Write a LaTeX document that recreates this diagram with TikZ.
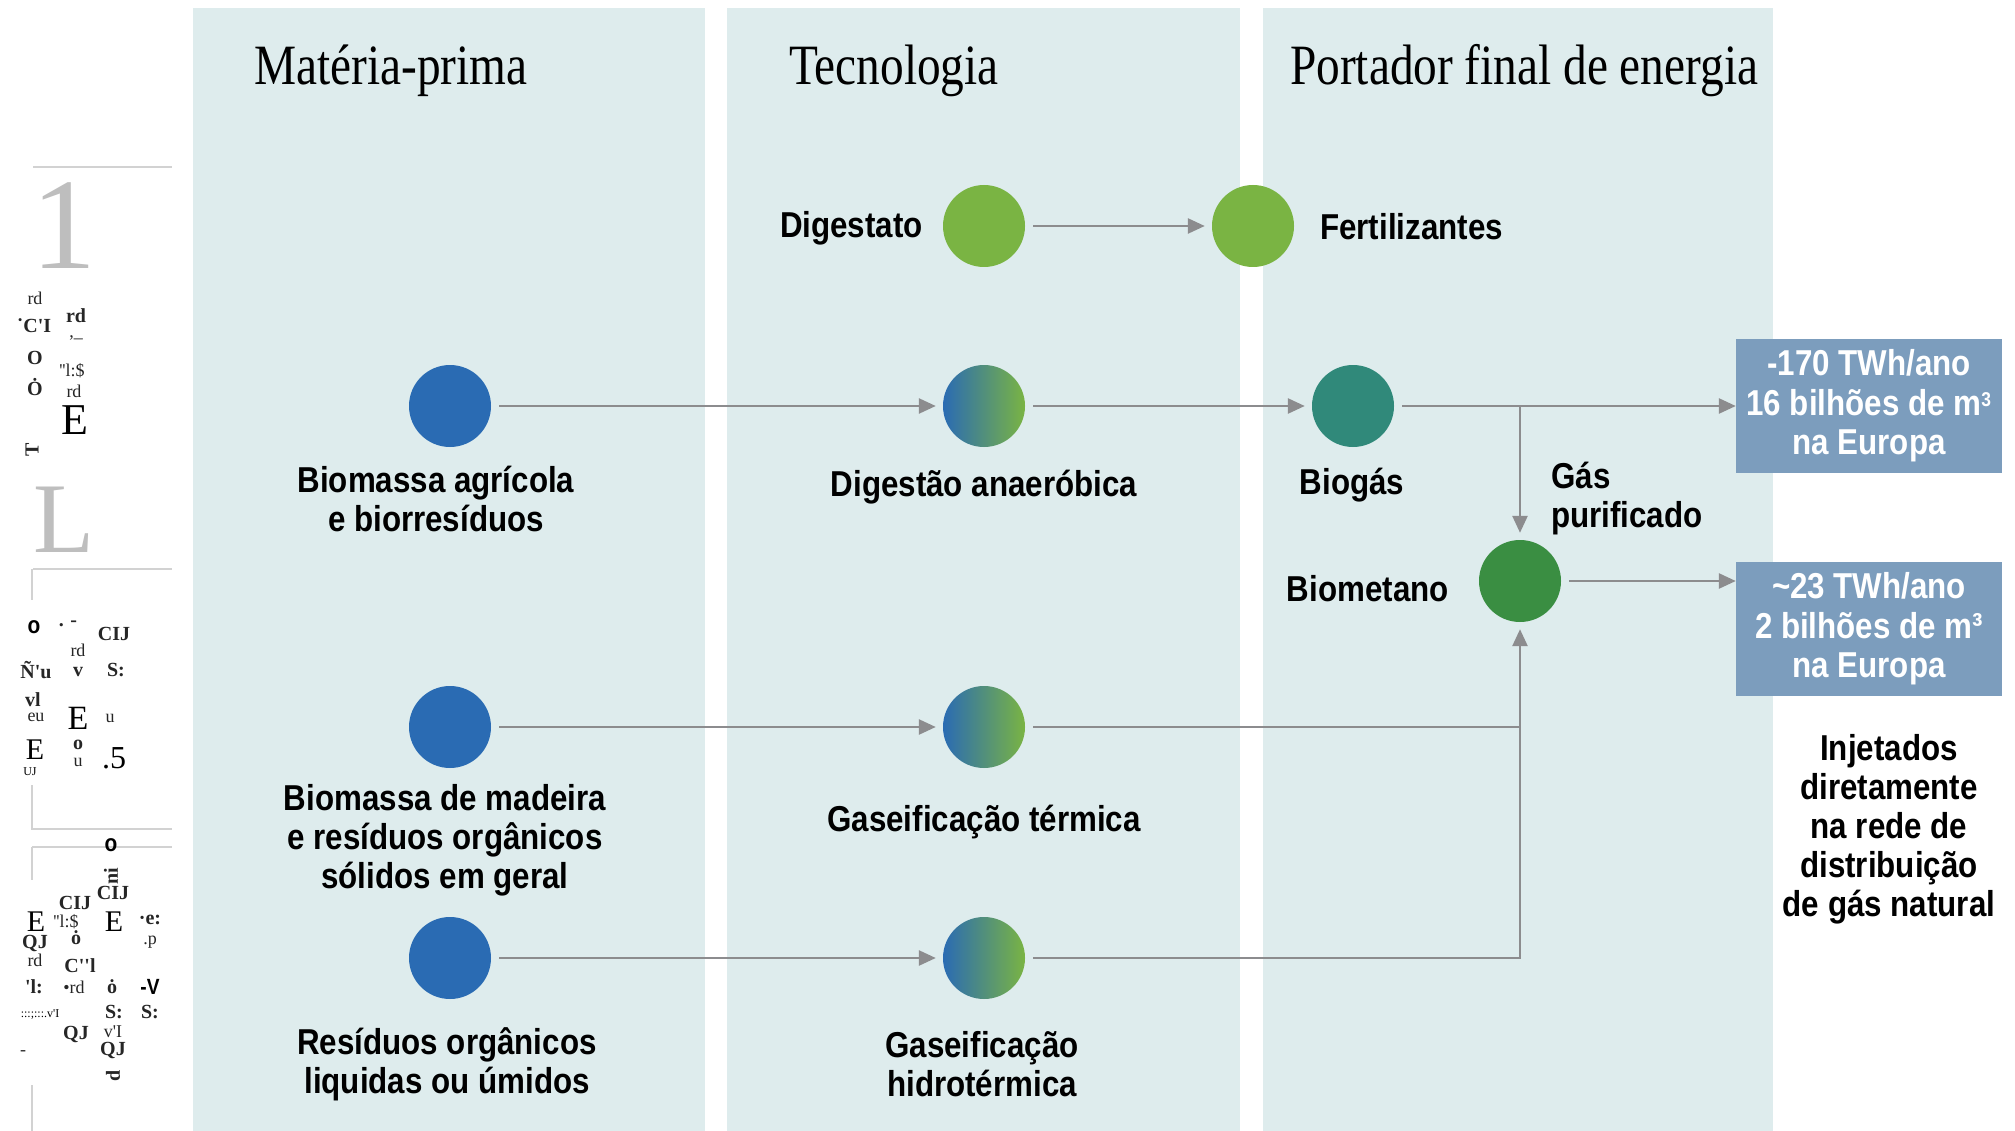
\documentclass[tikz,border=0pt]{standalone}
\usepackage{fontspec}
\usetikzlibrary{arrows.meta}
\newfontfamily\lab{Liberation Sans}[FakeStretch=0.87]
\newfontfamily\hdr{Liberation Serif}[FakeStretch=0.83]
\newfontfamily\grb{Liberation Serif}
\definecolor{colbg}{HTML}{DEECED}
\definecolor{cblue}{HTML}{2A6BB3}
\definecolor{cgreen}{HTML}{7AB443}
\definecolor{cteal}{HTML}{3A8D86}
\definecolor{cbiogas}{HTML}{30897A}
\definecolor{cbiomet}{HTML}{3A8E42}
\definecolor{carrow}{HTML}{8C8C8E}
\definecolor{cbox}{HTML}{7C9DBD}
\definecolor{cstrip}{HTML}{D2D2D2}
\definecolor{cbig}{HTML}{BEBEBE}
\tikzset{
  col/.style={fill=colbg, draw=none},
  dot/.style={circle, minimum size=82pt, inner sep=0pt, draw=none},
  raw/.style={dot, fill=cblue},
  grad/.style={dot, left color=cblue, middle color=cteal, right color=cgreen, shading angle=90},
  lbl/.style={font=\lab\bfseries\fontsize{36}{39}\selectfont, text=black, inner sep=0pt},
  hd/.style={font=\hdr\fontsize{57}{60}\selectfont, text=black, inner sep=0pt},
  flow/.style={draw=carrow, line width=2.6pt, -{Triangle[length=17pt,width=15pt]}, shorten >=7pt, shorten <=8pt},
  plain/.style={draw=carrow, line width=2.6pt},
  box/.style={fill=cbox, minimum width=266pt, minimum height=134pt, inner sep=0pt, align=center,
    font=\lab\bfseries\fontsize{36}{39.5}\selectfont, text=white},
  sline/.style={draw=cstrip, line width=2.5pt},
  gl/.style={font=\grb\fontsize{18}{18}\selectfont, inner sep=0pt, text=black!85},
  glb/.style={font=\grb\bfseries\fontsize{20}{20}\selectfont, inner sep=0pt, text=black!85},
}
\begin{document}
\begin{tikzpicture}[x=1pt,y=-1pt]
\useasboundingbox (0,0) rectangle (2015,1131);
\fill[white] (0,0) rectangle (2015,1131);
% columns
\path[col] (193,8) rectangle (705,1131);
\path[col] (727,8) rectangle (1240,1131);
\path[col] (1263,8) rectangle (1773,1131);
% headers
\node[hd, anchor=base west] (h1) at (254,85) {Matéria-prima};
\node[hd, anchor=base west] (h2) at (789,85) {Tecnologia};
\node[hd, anchor=base west] (h3) at (1290,85) {Portador final de energia};
% left strip
\draw[sline] (33,167) -- (172,167);
\draw[sline] (33,569) -- (172,569);
\draw[sline] (32,569) -- (32,600);
\draw[sline] (32,785) -- (32,829) -- (172,829);
\draw[sline] (32,847) -- (172,847);
\draw[sline] (32,847) -- (32,880);
\draw[sline] (32,1085) -- (32,1131);
\node[font=\grb\fontsize{130}{100}\selectfont, text=cbig, inner sep=0pt] (one) at (64,226) {1};
\node[font=\grb\fontsize{100}{100}\selectfont, text=cbig, inner sep=0pt] (ell) at (64,520) {L};
\node[gl] (g1) at (35,298) {rd};
\node[glb] (g2) at (34,326) {˙C'I};
\node[glb] (g3) at (76,316) {rd};
\node[gl] (g4) at (76,338) {,\_};
\node[glb] (g5) at (35,358) {O};
\node[gl] (g6) at (72,371) {''l:\$};
\node[glb] (g7) at (35,387) {Ȯ};
\node[gl] (g8) at (74,391) {rd};
\node[font=\grb\fontsize{44}{44}\selectfont, inner sep=0pt] (g9) at (75,420) {E};
\node[glb, rotate=90] (g10) at (32,450) {T};
\node[font=\lab\bfseries\fontsize{24}{24}\selectfont, inner sep=0pt] (g11) at (34,627) {o};
\node[glb] (g12) at (68,624) {. -};
\node[glb] (g13) at (114,634) {CIJ};
\node[gl] (g14) at (78,650) {rd};
\node[glb] (g15) at (36,670) {Ñ'u};
\node[glb] (g16) at (78,672) {v};
\node[glb] (g17) at (116,670) {S:};
\node[glb] (g18) at (33,700) {vl};
\node[gl] (g19) at (36,717) {eu};
\node[font=\grb\fontsize{34}{34}\selectfont, inner sep=0pt] (g20) at (78,718) {E};
\node[font=\grb\fontsize{30}{30}\selectfont, inner sep=0pt] (g21) at (35,750) {E};
\node[glb] (g22) at (78,745) {o};
\node[gl] (g23) at (78,762) {u};
\node[font=\grb\fontsize{32}{32}\selectfont, inner sep=0pt] (g24) at (114,758) {.5};
\node[gl] (g25) at (110,718) {u};
\node[font=\grb\fontsize{12}{12}\selectfont, inner sep=0pt] (g26) at (30,772) {UJ};
\node[font=\lab\bfseries\fontsize{24}{24}\selectfont, inner sep=0pt] (g27) at (111,845) {o};
\node[glb, rotate=90] (g28) at (111,876) {ni};
\node[glb] (g29) at (75,903) {CIJ};
\node[glb] (g30) at (113,893) {CIJ};
\node[font=\grb\fontsize{30}{30}\selectfont, inner sep=0pt] (g31) at (36,922) {E};
\node[font=\grb\fontsize{30}{30}\selectfont, inner sep=0pt] (g32) at (114,922) {E};
\node[glb] (g33) at (150,920) {·e:};
\node[gl] (g34) at (150,942) {.p};
\node[glb] (g35) at (35,943) {QJ};
\node[gl] (g36) at (66,922) {''l:\$};
\node[glb] (g37) at (76,938) {ȯ};
\node[gl] (g38) at (35,960) {rd};
\node[glb] (g39) at (80,966) {C''l};
\node[glb] (g40) at (34,987) {'l:};
\node[gl] (g41) at (74,987) {•rd};
\node[glb] (g42) at (112,987) {ȯ};
\node[font=\lab\bfseries\fontsize{22}{22}\selectfont, inner sep=0pt] (g43) at (150,987) {-V};
\node[glb] (g44) at (114,1012) {S:};
\node[glb] (g45) at (150,1012) {S:};
\node[font=\grb\fontsize{12}{12}\selectfont, inner sep=0pt] (g46) at (40,1014) {:::;:::.v'I};
\node[glb] (g47) at (76,1034) {QJ};
\node[gl] (g48) at (113,1032) {v'I};
\node[glb] (g49) at (113,1050) {QJ};
\node[glb, rotate=90] (g50) at (113,1076) {d};
\node[gl] (g51) at (23,1053) {-};
% nodes
\node[dot, fill=cgreen] (dig) at (984,226) {};
\node[dot, fill=cgreen] (fer) at (1253,226) {};
\node[raw] (bag) at (450,406) {};
\node[grad] (dan) at (984,406) {};
\node[dot, fill=cbiogas] (bgs) at (1353,406) {};
\node[dot, fill=cbiomet] (bmt) at (1520,581) {};
\node[raw] (bmd) at (450,727) {};
\node[grad] (gter) at (984,727) {};
\node[raw] (res) at (450,958) {};
\node[grad] (ghid) at (984,958) {};
\node[box] (b1) at (1869,406) {-170 TWh/ano\\16 bilhões de m\textsuperscript{\fontsize{20}{20}\selectfont 3}\\na Europa};
\node[box] (b2) at (1869,629) {\textasciitilde23 TWh/ano\\2 bilhões de m³\\na Europa};
% labels
\node[lbl, anchor=east] (ldig) at (923,228) {Digestato};
\node[lbl, anchor=west] (lfer) at (1320,227) {Fertilizantes};
\node[lbl, align=center] (lbag) at (436,499) {Biomassa agrícola\\e biorresíduos};
\node[lbl] (ldan) at (984,487) {Digestão anaeróbica};
\node[lbl] (lbgs) at (1352,485) {Biogás};
\node[lbl, align=left, anchor=west] (lgp) at (1551,499) {Gás\\purificado};
\node[lbl, anchor=east] (lbmt) at (1449,589) {Biometano};
\node[lbl, align=center] (lbmd) at (445,840) {Biomassa de madeira\\e resíduos orgânicos\\sólidos em geral};
\node[lbl] (lgter) at (984,822) {Gaseificação térmica};
\node[lbl, align=center] (lres) at (447,1064) {Resíduos orgânicos\\liquidas ou úmidos};
\node[lbl, align=center] (lghid) at (982,1064) {Gaseificação\\hidrotérmica};
\node[lbl, align=center] (linj) at (1889,829) {Injetados\\diretamente\\na rede de\\distribuição\\de gás natural};
% connectors
\draw[flow] (dig) -- (fer);
\draw[flow] (bag) -- (dan);
\draw[flow] (dan) -- (bgs);
\draw[flow, shorten >=0pt] (bgs.east) -- (bgs.east -| b1.west);
\coordinate (jn) at (bgs.east -| bmt.north);
\draw[flow, shorten <=0pt] (jn) -- (bmt);
\draw[flow, shorten >=0pt] (bmt.east) -- (bmt.east -| b2.west);
\draw[flow] (bmd) -- (gter);
\draw[flow] (res) -- (ghid);
\draw[plain, shorten <=8pt] (gter.east) -- (gter.east -| bmt.south);
\draw[flow] (ghid.east) -| (bmt.south);
\end{tikzpicture}
\end{document}
